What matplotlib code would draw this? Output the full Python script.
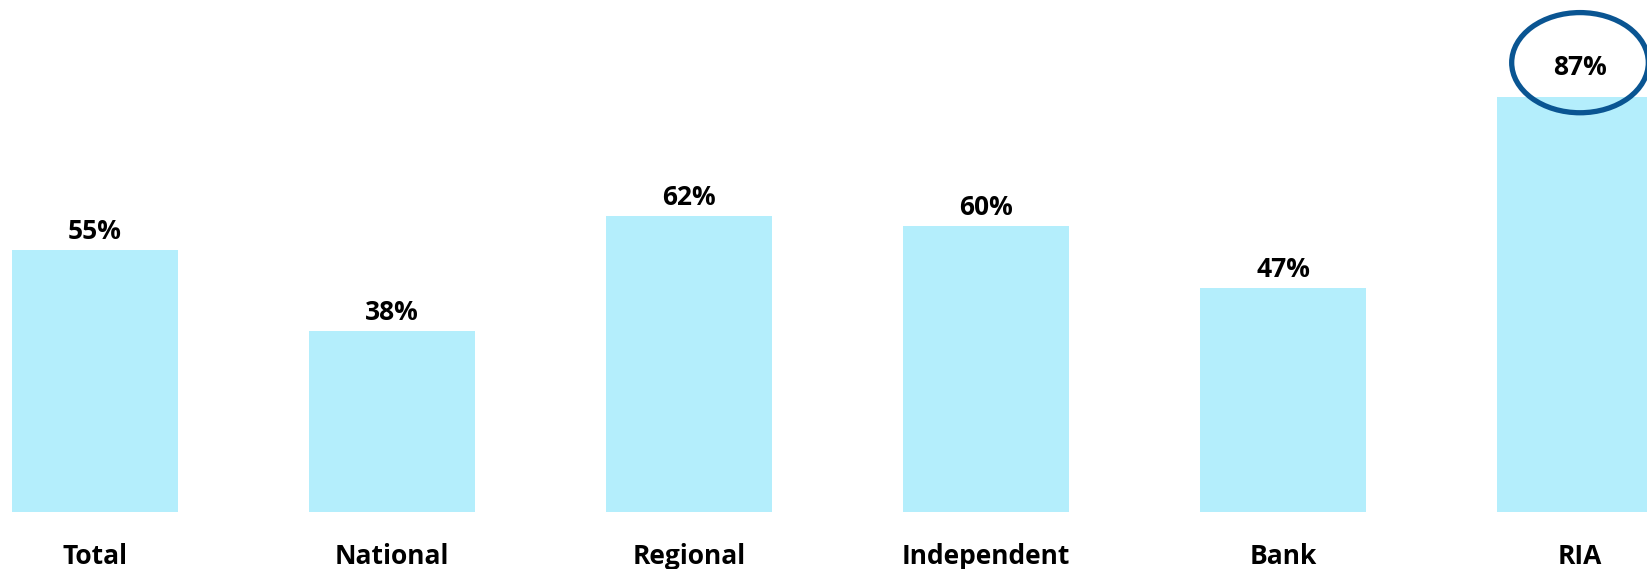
import matplotlib
matplotlib.use("Agg")
import matplotlib.pyplot as plt
from matplotlib.patches import Ellipse

# share of respondents by channel
categories = ["Total", "National", "Regional", "Independent", "Bank", "RIA"]
values = [55, 38, 62, 60, 47, 87]
highlight = "RIA"

BAR_COLOR = "#B4EEFC"
RING_COLOR = "#0A5592"

plt.rcParams["font.family"] = ["Open Sans", "DejaVu Sans"]

fig = plt.figure(figsize=(16.47, 5.69), dpi=100)
ax = fig.add_axes([0, 57 / 569, 1, 512 / 569])

x = list(range(len(categories)))
bars = ax.bar(x, values, width=0.56, color=BAR_COLOR)

for i, (bar, v) in enumerate(zip(bars, values)):
    lift = 15.5 if categories[i] == highlight else 8
    ax.annotate(f"{v}%", (bar.get_x() + bar.get_width() / 2, v),
                xytext=(0, lift), textcoords="offset points",
                ha="center", va="baseline", fontsize=19, fontweight="bold")

# ring around the highlighted value
hi = categories.index(highlight)
ax.add_patch(Ellipse((hi, values[hi] + 7.2), 0.46, 21, fill=False,
                     edgecolor=RING_COLOR, linewidth=3.8, clip_on=False))

ax.set_xlim(-95 / 297, 1552 / 297)
ax.set_ylim(0, 512 / 4.77)
ax.set_xticks(x)
ax.set_xticklabels(categories, fontsize=19, fontweight="bold")
ax.tick_params(axis="x", length=0, pad=22)
ax.set_yticks([])
for side in ax.spines.values():
    side.set_visible(False)

fig.savefig("out.png", dpi=100)
